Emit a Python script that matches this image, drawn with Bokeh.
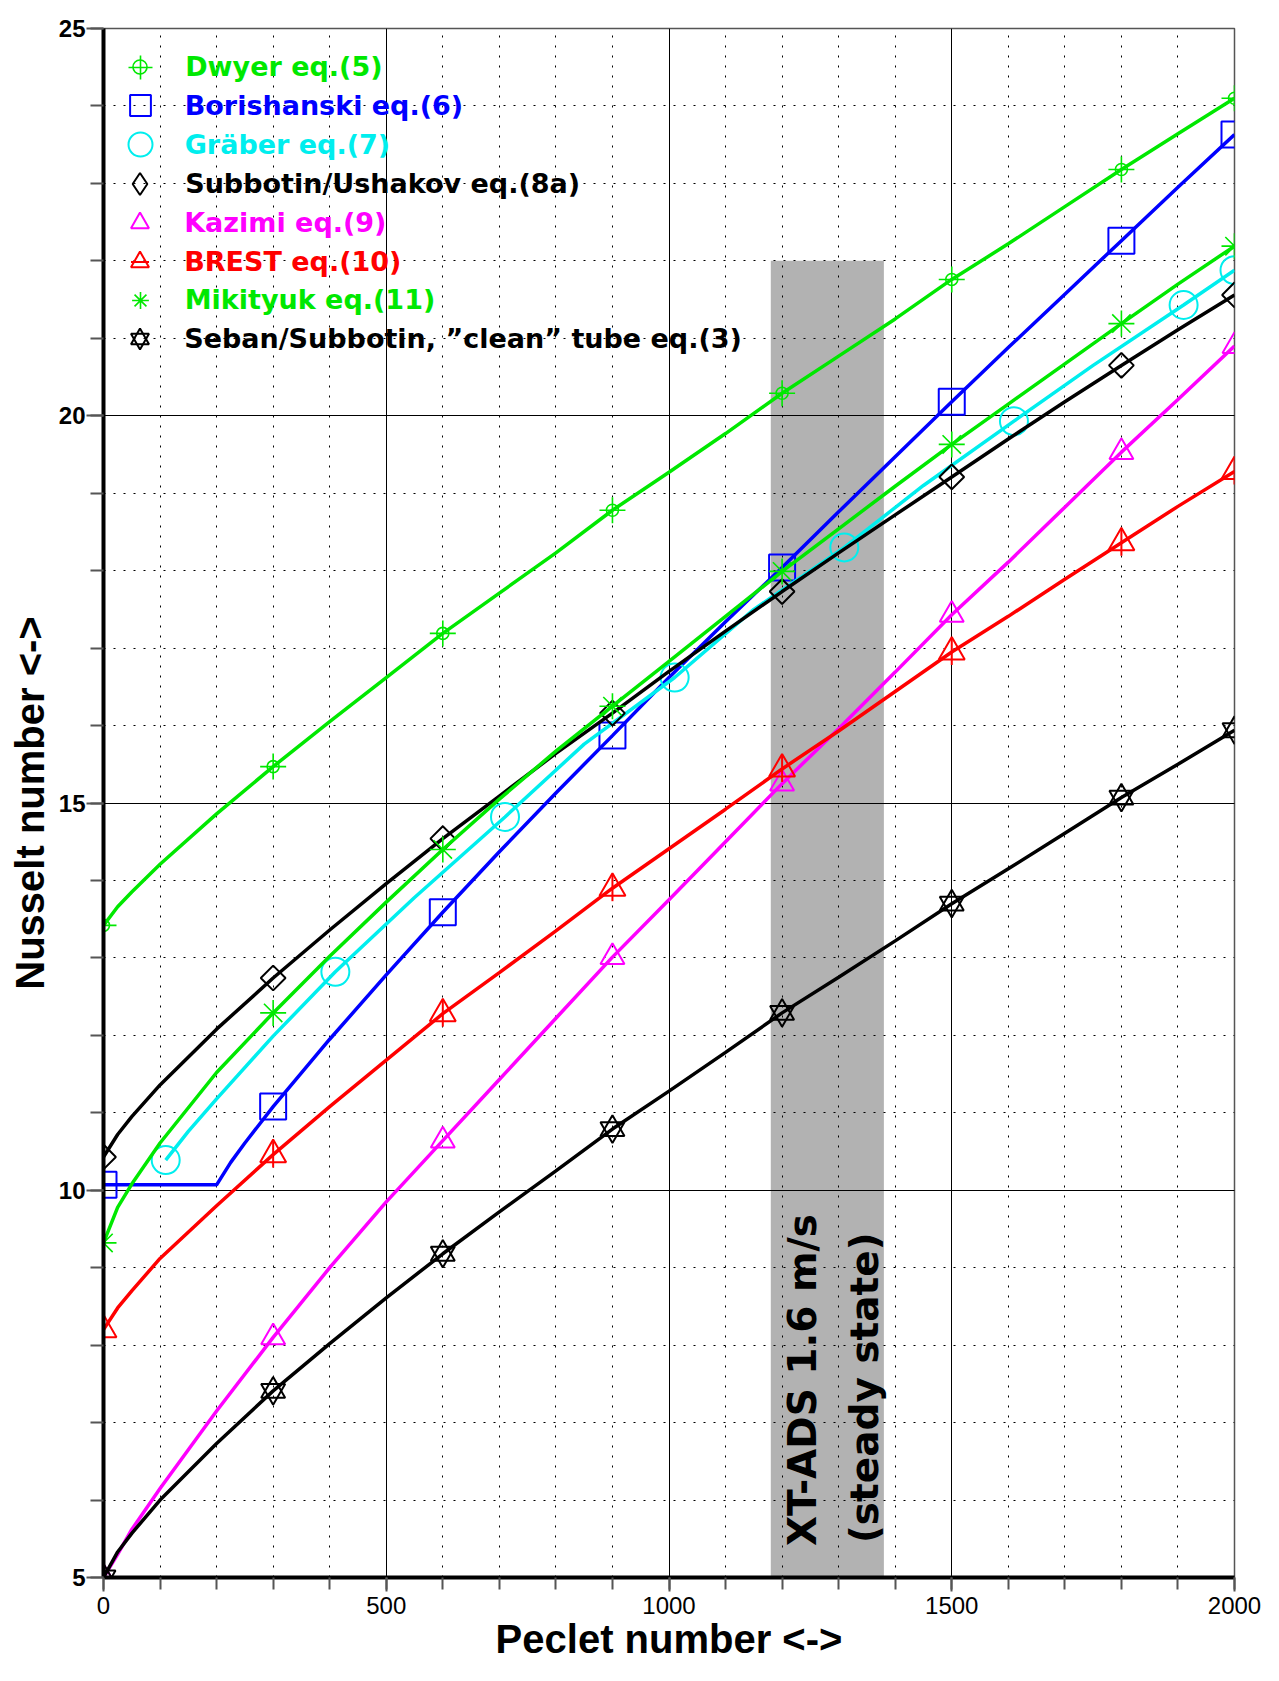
import math
from bokeh.plotting import figure
from bokeh.models import Range1d, SingleIntervalTicker, Legend, LegendItem, Label
from bokeh.embed import file_html
from bokeh.resources import INLINE

# ---------------- data ----------------
pe_line = [0, 25, 50, 100, 200, 300, 400, 500, 600, 700, 800, 900, 1000,
           1100, 1200, 1300, 1400, 1500, 1600, 1700, 1800, 1900, 2000]
pe_mark = [0, 300, 600, 900, 1200, 1500, 1800, 2000]

dwyer = [13.42, 13.66, 13.85, 14.21, 14.86, 15.47, 16.05, 16.62, 17.19, 17.71, 18.23, 18.78, 19.27,
         19.77, 20.29, 20.77, 21.25, 21.76, 22.22, 22.70, 23.18, 23.64, 24.10]
subbotin = [10.43, 10.72, 10.95, 11.36, 12.08, 12.74, 13.36, 13.96, 14.54, 15.09, 15.64, 16.16, 16.70,
            17.22, 17.73, 18.23, 18.72, 19.21, 19.70, 20.18, 20.65, 21.11, 21.56]
kazimi = [5.00, 5.30, 5.62, 6.15, 7.15, 8.10, 9.00, 9.85, 10.64, 11.43, 12.22, 13.01, 13.75,
          14.50, 15.25, 15.96, 16.69, 17.43, 18.11, 18.82, 19.53, 20.21, 20.90]
brest = [8.20, 8.48, 8.70, 9.12, 9.80, 10.46, 11.08, 11.68, 12.28, 12.81, 13.35, 13.90, 14.41,
         14.92, 15.44, 15.93, 16.44, 16.95, 17.41, 17.89, 18.36, 18.83, 19.28]
mikityuk = [9.32, 9.78, 10.08, 10.61, 11.52, 12.29, 13.02, 13.72, 14.40, 15.05, 15.67, 16.25, 16.83,
            17.41, 17.99, 18.54, 19.09, 19.63, 20.15, 20.67, 21.19, 21.70, 22.19]
seban = [5.00, 5.33, 5.57, 6.00, 6.73, 7.41, 8.02, 8.61, 9.18, 9.72, 10.25, 10.79, 11.28,
         11.78, 12.29, 12.75, 13.22, 13.70, 14.15, 14.61, 15.07, 15.50, 15.94]

pe_bor = [0, 100, 200, 225, 250, 300, 400, 500, 600, 700, 800, 900, 1000,
          1100, 1200, 1300, 1400, 1500, 1600, 1700, 1800, 1900, 2000]
borishanski = [10.07, 10.07, 10.07, 10.36, 10.61, 11.08, 11.95, 12.78, 13.59, 14.37, 15.13, 15.87, 16.62,
               17.34, 18.04, 18.76, 19.47, 20.18, 20.88, 21.57, 22.26, 22.95, 23.63]

pe_gra = [110, 150, 200, 300, 410, 550, 710, 850, 1010, 1150, 1310, 1450, 1610, 1750, 1910, 2000]
graber = [10.39, 10.76, 11.18, 11.99, 12.82, 13.78, 14.82, 15.76, 16.62, 17.50, 18.30, 19.10,
          19.93, 20.65, 21.43, 21.88]
pe_gra_mark = [110, 410, 710, 1010, 1310, 1610, 1910, 2000]

band_pe = [1180, 1380]
band_nu = [5.0, 22.0]
band_text = ["XT-ADS 1.6 m/s", "(steady state)"]

names = ["Dwyer eq.(5)", "Borishanski eq.(6)", "Gr\u00e4ber eq.(7)", "Subbotin/Ushakov eq.(8a)",
         "Kazimi eq.(9)", "BREST eq.(10)", "Mikityuk eq.(11)",
         "Seban/Subbotin, \u201dclean\u201d tube eq.(3)"]

GREEN = "#00e800"
BLUE = "#0000ff"
CYAN = "#00eeee"
BLACK = "#000000"
MAGENTA = "#ff00ff"
RED = "#ff0000"
NAN = float("nan")


def pick(xs, ys, keep):
    px, py = [], []
    for x, y in zip(xs, ys):
        if x in keep:
            px.append(x)
            py.append(y)
    return px, py


p = figure(width=1262, height=1665, output_backend="svg", toolbar_location=None,
           x_range=Range1d(0, 2000), y_range=Range1d(5, 25),
           min_border_left=103, min_border_right=28, min_border_top=28, min_border_bottom=88,
           background_fill_color="white", border_fill_color="white")
p.outline_line_color = "#555555"
p.outline_line_width = 1.5

xt = SingleIntervalTicker(interval=500, num_minor_ticks=5)
yt = SingleIntervalTicker(interval=5, num_minor_ticks=5)
p.xaxis.ticker = xt
p.yaxis.ticker = yt
p.xgrid.ticker = xt
p.ygrid.ticker = yt

p.grid.grid_line_color = "black"
p.grid.grid_line_width = 1
p.grid.grid_line_alpha = 1.0
p.grid.minor_grid_line_color = "black"
p.grid.minor_grid_line_width = 1
p.grid.minor_grid_line_dash = "2 8"

p.axis.axis_line_width = 4
p.axis.axis_line_color = "black"
p.axis.major_tick_line_color = "#555555"
p.axis.minor_tick_line_color = "#555555"
p.axis.major_tick_line_width = 2
p.axis.minor_tick_line_width = 2
p.axis.major_tick_in = 0
p.axis.minor_tick_in = 0
p.xaxis.major_tick_out = 14
p.xaxis.minor_tick_out = 12
p.yaxis.major_tick_out = 17
p.yaxis.minor_tick_out = 13
p.axis.major_label_text_font = "Liberation Sans"
p.axis.major_label_text_font_size = "24px"
p.axis.major_label_text_color = "black"
p.xaxis.major_label_text_font_style = "normal"
p.yaxis.major_label_text_font_style = "bold"
p.xaxis.major_label_standoff = 5
p.yaxis.major_label_standoff = 1

p.xaxis.axis_label = "Peclet number <->"
p.yaxis.axis_label = "Nusselt number <->"
p.axis.axis_label_text_font = "Liberation Sans"
p.axis.axis_label_text_font_size = "40px"
p.axis.axis_label_text_font_style = "bold"
p.axis.axis_label_text_color = "black"
p.xaxis.axis_label_standoff = 0
p.yaxis.axis_label_standoff = 4

# grey band
p.quad(left=[band_pe[0]], right=[band_pe[1]], bottom=[band_nu[0]], top=[band_nu[1]],
       fill_color="black", fill_alpha=0.3, line_color=None)

LW = 3.5
MLW = 2

# Dwyer
p.line(pe_line, dwyer, line_color=GREEN, line_width=LW)
mx, my = pick(pe_line, dwyer, pe_mark)
r_dw1 = p.scatter(mx, my, marker="circle", size=12, fill_color=None, line_color=GREEN, line_width=1.6)
r_dw2 = p.scatter(mx, my, marker="cross", size=26, line_color=GREEN, line_width=1.6)

# Borishanski
p.line(pe_bor, borishanski, line_color=BLUE, line_width=LW)
mx, my = pick(pe_bor, borishanski, pe_mark)
r_bo = p.scatter(mx, my, marker="square", size=26, fill_color=None, line_color=BLUE, line_width=MLW)

# Graeber
p.line(pe_gra, graber, line_color=CYAN, line_width=LW)
mx, my = pick(pe_gra, graber, pe_gra_mark)
r_gr = p.scatter(mx, my, marker="circle", size=28, fill_color=None, line_color=CYAN, line_width=MLW)

# Subbotin / Ushakov
p.line(pe_line, subbotin, line_color=BLACK, line_width=LW)
mx, my = pick(pe_line, subbotin, pe_mark)
p.scatter(mx, my, marker="square", angle=math.pi / 4, size=17.5, fill_color=None,
          line_color=BLACK, line_width=MLW)
# legend-only symbol (legends ignore marker angles); its point is not drawn
r_su = p.scatter([NAN], [NAN], marker="diamond", size=22, fill_color=None, line_color=BLACK,
                 line_width=MLW)

# Kazimi
p.line(pe_line, kazimi, line_color=MAGENTA, line_width=LW)
mx, my = pick(pe_line, kazimi, pe_mark)
r_ka = p.scatter(mx, my, marker="triangle", size=24, fill_color=None, line_color=MAGENTA, line_width=MLW)

# BREST
p.line(pe_line, brest, line_color=RED, line_width=LW)
mx, my = pick(pe_line, brest, pe_mark)
r_br1 = p.scatter(mx, my, marker="triangle", size=26, fill_color=None, line_color=RED, line_width=MLW)
r_br2 = p.scatter(mx, my, marker="dash", angle=math.pi / 2, size=26, line_color=RED, line_width=MLW)

# Mikityuk
p.line(pe_line, mikityuk, line_color=GREEN, line_width=LW)
mx, my = pick(pe_line, mikityuk, pe_mark)
r_mi = p.scatter(mx, my, marker="asterisk", size=26, line_color=GREEN, line_width=1.6)

# Seban / Subbotin
p.line(pe_line, seban, line_color=BLACK, line_width=LW)
mx, my = pick(pe_line, seban, pe_mark)
r_se1 = p.scatter(mx, my, marker="triangle", size=24, fill_color=None, line_color=BLACK, line_width=MLW)
r_se2 = p.scatter(mx, my, marker="inverted_triangle", size=24, fill_color=None, line_color=BLACK,
                  line_width=MLW)

# band text
p.add_layout(Label(x=1236, y=7.55, text=band_text[0], angle=math.pi / 2, text_align="center",
                   text_baseline="middle", text_font="DejaVu Sans", text_font_size="39px",
                   text_font_style="bold", text_color="black"))
p.add_layout(Label(x=1345, y=7.45, text=band_text[1], angle=math.pi / 2, text_align="center",
                   text_baseline="middle", text_font="DejaVu Sans", text_font_size="39px",
                   text_font_style="bold", text_color="black"))

# legends: one per entry so each label keeps its colour
entries = [
    (names[0], [r_dw1], GREEN, 35),
    (names[1], [r_bo], BLUE, 52),
    (names[2], [r_gr], CYAN, 60),
    (names[3], [r_su], BLACK, 55),
    (names[4], [r_ka], MAGENTA, 45),
    (names[5], [r_br1, r_br2], RED, 45),
    (names[6], [r_mi], GREEN, 42),
    (names[7], [r_se1, r_se2], BLACK, 45),
]
MX = 36.7          # symbol centre from frame left (px)
TOP = 1510.5       # first entry centre from frame bottom (px)
STEP = 38.9
TX = 81.7          # label start from frame left (px)


def make_legend(label, rends, color, g, i):
    cy = TOP - STEP * i
    return Legend(items=[LegendItem(label=label, renderers=rends)],
                  location=(MX - g / 2, cy - g / 2),
                  glyph_width=g, glyph_height=g,
                  label_standoff=int(round(TX - MX - g / 2)),
                  label_text_color=color, label_text_font="DejaVu Sans",
                  label_text_font_size="27px", label_text_font_style="bold",
                  padding=0, margin=0, spacing=0, border_line_color=None,
                  background_fill_alpha=0.0)


for i, (label, rends, color, g) in enumerate(entries):
    p.add_layout(make_legend(label, rends, color, g, i))
# larger cross of the Dwyer symbol
p.add_layout(make_legend(" ", [r_dw2], GREEN, 60, 0))

open("out.html", "w").write(file_html(p, INLINE))
